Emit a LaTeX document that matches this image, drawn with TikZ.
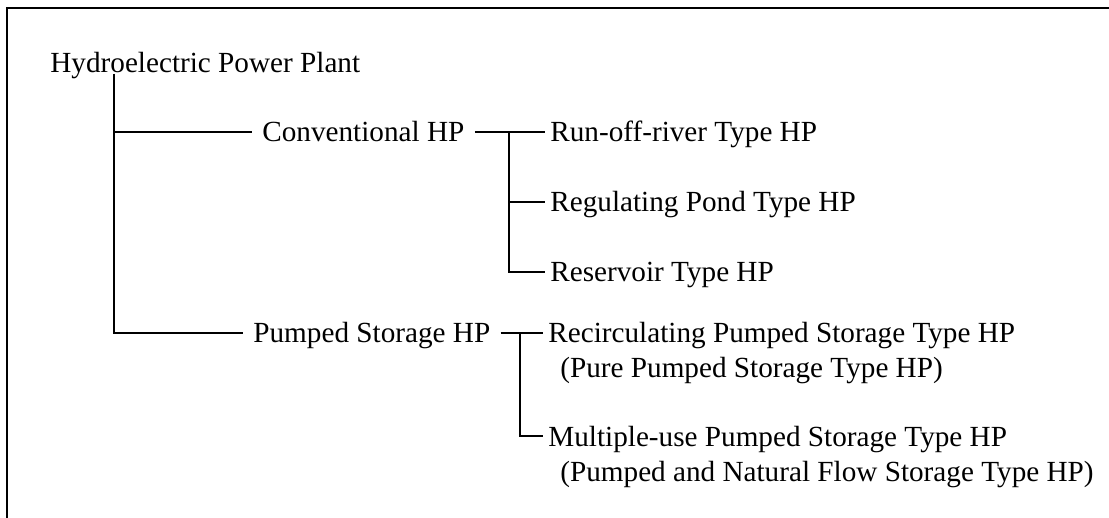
\documentclass[tikz,border=0pt]{standalone}
\usepackage{fontspec}
\setmainfont{Liberation Serif}
\usetikzlibrary{positioning, calc}

\newcommand{\twolines}[2]{\vtop{\hbox{#1}\hbox{\hspace*{6pt}#2}}}

\begin{document}
\begin{tikzpicture}[
    x=0.5pt, y=-0.5pt,
    every node/.style={font=\fontsize{14.6}{17.5}\selectfont},
    item/.style={anchor=west, inner ysep=0pt, text height=13pt, text depth=3pt},
    mid/.style={item, inner xsep=5pt},
    leaf/.style={item, inner xsep=2.5pt},
    tree/.style={line width=0.75pt},
]
    \useasboundingbox (0,0) rectangle (1109,518);

    % Frame
    \draw[line width=0.9pt] (1109,8) -- (7,8) -- (7,518);

    % Root
    \node[anchor=base west, inner sep=0pt] (hpp) at (50,73) {Hydroelectric Power Plant};
    \coordinate (trunk) at (114,74);

    % Main branches
    \node[mid] (conv) at (252,132) {Conventional HP};
    \node[mid] (pumped) at (243,333) {Pumped Storage HP};
    \draw[tree] (trunk) |- (conv.west);
    \draw[tree] (trunk) |- (pumped.west);

    % Conventional types
    \node[leaf] (runoff) at (545,132) {Run-off-river Type HP};
    \node[leaf] (regpond) at (545,202) {Regulating Pond Type HP};
    \node[leaf] (reservoir) at (545,272) {Reservoir Type HP};
    \coordinate (cj) at (509,132);
    \draw[tree] (conv.east) -- (runoff.west);
    \draw[tree] (cj) |- (regpond.west);
    \draw[tree] (cj) |- (reservoir.west);

    % Pumped storage types
    \node[leaf] (recirc) at (543,333)
        {\twolines{Recirculating Pumped Storage Type HP}{(Pure Pumped Storage Type HP)}};
    \node[leaf] (multiuse) at (543,436)
        {\twolines{Multiple-use Pumped Storage Type HP}{(Pumped and Natural Flow Storage Type HP)}};
    \coordinate (pj) at (520,333);
    \draw[tree] (pumped.east) -- (recirc.west);
    \draw[tree] (pj) |- (multiuse.west);
\end{tikzpicture}
\end{document}
